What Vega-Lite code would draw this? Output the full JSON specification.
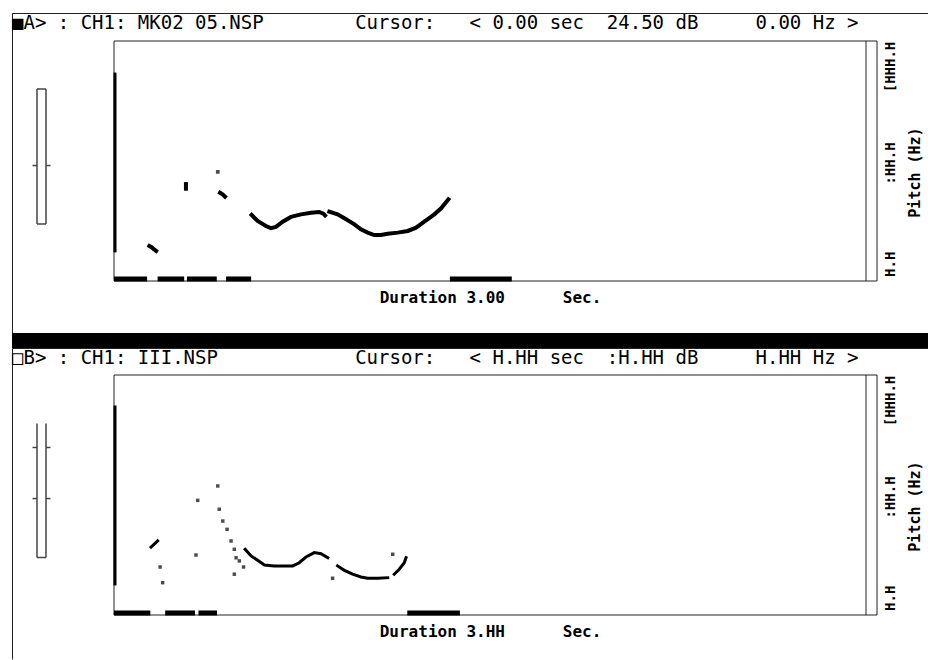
{
  "$schema": "https://vega.github.io/schema/vega-lite/v6.json",
  "background": "white",
  "padding": {"left": 11, "top": 12, "right": 0, "bottom": 0},
  "spacing": 0,
  "bounds": "flush",
  "config": {"view": {"stroke": null}, "font": "DejaVu Sans Mono", "axis": {"grid": false}},
  "datasets": {
    "pitchA": [
      {"t": 0.549, "hz": 333, "seg": "c1"}, {"t": 0.573, "hz": 300, "seg": "c1"}, {"t": 0.606, "hz": 273, "seg": "c1"},
      {"t": 0.626, "hz": 261, "seg": "c1"}, {"t": 0.646, "hz": 268, "seg": "c1"}, {"t": 0.673, "hz": 296, "seg": "c1"},
      {"t": 0.706, "hz": 322, "seg": "c1"}, {"t": 0.746, "hz": 336, "seg": "c1"}, {"t": 0.786, "hz": 345, "seg": "c1"},
      {"t": 0.819, "hz": 349, "seg": "c1"}, {"t": 0.835, "hz": 340, "seg": "c1"}, {"t": 0.842, "hz": 330, "seg": "c1"},
      {"t": 0.859, "hz": 350, "seg": "c2"}, {"t": 0.892, "hz": 336, "seg": "c2"}, {"t": 0.926, "hz": 309, "seg": "c2"},
      {"t": 0.959, "hz": 282, "seg": "c2"}, {"t": 0.985, "hz": 255, "seg": "c2"}, {"t": 1.012, "hz": 237, "seg": "c2"},
      {"t": 1.038, "hz": 224, "seg": "c2"}, {"t": 1.065, "hz": 224, "seg": "c2"}, {"t": 1.092, "hz": 231, "seg": "c2"},
      {"t": 1.132, "hz": 237, "seg": "c2"}, {"t": 1.172, "hz": 246, "seg": "c2"}, {"t": 1.205, "hz": 264, "seg": "c2"},
      {"t": 1.238, "hz": 296, "seg": "c2"}, {"t": 1.278, "hz": 336, "seg": "c2"}, {"t": 1.305, "hz": 369, "seg": "c2"},
      {"t": 1.334, "hz": 418, "seg": "c2"},
      {"t": 0.141, "hz": 165, "seg": "s1"}, {"t": 0.150, "hz": 158, "seg": "s1"}, {"t": 0.160, "hz": 146, "seg": "s1"}, {"t": 0.168, "hz": 138, "seg": "s1"},
      {"t": 0.287, "hz": 500, "seg": "s2"}, {"t": 0.287, "hz": 475, "seg": "s2"},
      {"t": 0.423, "hz": 453, "seg": "s3"}, {"t": 0.433, "hz": 445, "seg": "s3"}, {"t": 0.443, "hz": 432, "seg": "s3"},
      {"t": 0.414, "hz": 566, "seg": "dot"}
    ],
    "pitchB": [
      {"t": 0.148, "hz": 343, "seg": "b1"}, {"t": 0.174, "hz": 376, "seg": "b1"},
      {"t": 0.523, "hz": 331, "seg": "b2"}, {"t": 0.547, "hz": 295, "seg": "b2"}, {"t": 0.573, "hz": 271, "seg": "b2"},
      {"t": 0.600, "hz": 246, "seg": "b2"}, {"t": 0.639, "hz": 241, "seg": "b2"}, {"t": 0.679, "hz": 241, "seg": "b2"},
      {"t": 0.713, "hz": 241, "seg": "b2"}, {"t": 0.739, "hz": 258, "seg": "b2"}, {"t": 0.766, "hz": 289, "seg": "b2"},
      {"t": 0.799, "hz": 313, "seg": "b2"}, {"t": 0.826, "hz": 307, "seg": "b2"}, {"t": 0.853, "hz": 285, "seg": "b2"},
      {"t": 0.892, "hz": 241, "seg": "b3"}, {"t": 0.919, "hz": 217, "seg": "b3"}, {"t": 0.952, "hz": 196, "seg": "b3"},
      {"t": 0.985, "hz": 181, "seg": "b3"}, {"t": 1.012, "hz": 174, "seg": "b3"}, {"t": 1.052, "hz": 174, "seg": "b3"},
      {"t": 1.092, "hz": 177, "seg": "b3"},
      {"t": 1.118, "hz": 196, "seg": "b4"}, {"t": 1.138, "hz": 223, "seg": "b4"}, {"t": 1.158, "hz": 258, "seg": "b4"}, {"t": 1.165, "hz": 285, "seg": "b4"},
      {"t": 0.184, "hz": 235, "seg": "dot"}, {"t": 0.194, "hz": 150, "seg": "dot"}, {"t": 0.334, "hz": 596, "seg": "dot"},
      {"t": 0.327, "hz": 300, "seg": "dot"}, {"t": 0.414, "hz": 674, "seg": "dot"}, {"t": 0.480, "hz": 196, "seg": "dot"},
      {"t": 0.872, "hz": 174, "seg": "dot"}, {"t": 1.112, "hz": 304, "seg": "dot"},
      {"t": 0.420, "hz": 548, "seg": "dot"}, {"t": 0.434, "hz": 484, "seg": "dot"}, {"t": 0.451, "hz": 439, "seg": "dot"},
      {"t": 0.467, "hz": 376, "seg": "dot"}, {"t": 0.480, "hz": 331, "seg": "dot"}, {"t": 0.487, "hz": 285, "seg": "dot"},
      {"t": 0.500, "hz": 268, "seg": "dot"}, {"t": 0.517, "hz": 235, "seg": "dot"}
    ],
    "voicedA": [{"t0": 0, "t1": 0.132}, {"t0": 0.174, "t1": 0.28}, {"t0": 0.291, "t1": 0.41}, {"t0": 0.447, "t1": 0.547}, {"t0": 1.34, "t1": 1.587}],
    "voicedB": [{"t0": 0, "t1": 0.145}, {"t0": 0.204, "t1": 0.323}, {"t0": 0.337, "t1": 0.411}, {"t0": 1.17, "t1": 1.38}],
    "levelA": [{"t": 0.004, "lo": 130, "hi": 1104}],
    "levelB": [{"t": 0.004, "lo": 135, "hi": 1110}],
    "sliderA": [
      {"sx": 0, "sx2": 0, "sy": 0, "sy2": 1}, {"sx": 1, "sx2": 1, "sy": 0, "sy2": 1},
      {"sx": 0, "sx2": 1, "sy": 1, "sy2": 1}, {"sx": 0, "sx2": 1, "sy": 0, "sy2": 0},
      {"sx": -0.5, "sx2": 0, "sy": 0.433, "sy2": 0.433}, {"sx": 1, "sx2": 1.5, "sy": 0.433, "sy2": 0.433}
    ],
    "sliderB": [
      {"sx": 0, "sx2": 0, "sy": 0, "sy2": 1}, {"sx": 1, "sx2": 1, "sy": 0, "sy2": 1},
      {"sx": 0, "sx2": 1, "sy": 0, "sy2": 0},
      {"sx": -0.5, "sx2": 0, "sy": 0.821, "sy2": 0.821}, {"sx": 1, "sx2": 1.5, "sy": 0.821, "sy2": 0.821},
      {"sx": -0.5, "sx2": 0, "sy": 0.44, "sy2": 0.44}, {"sx": 1, "sx2": 1.5, "sy": 0.44, "sy2": 0.44}
    ]
  },
  "vconcat": [
    {
      "width": 916,
      "height": 320,
      "view": {"stroke": "#222", "strokeWidth": 1, "strokeDash": [916, 1236, 320]},
      "title": {
        "text": "■A> : CH1: MK02 05.NSP\u00a0\u00a0\u00a0\u00a0\u00a0\u00a0\u00a0\u00a0Cursor:\u00a0\u00a0\u00a0<\u00a00.00\u00a0sec\u00a0\u00a024.50\u00a0dB\u00a0\u00a0\u00a0\u00a0\u00a00.00\u00a0Hz\u00a0>",
        "anchor": "start", "frame": "group", "orient": "top", "offset": -20,
        "font": "DejaVu Sans Mono", "fontSize": 19, "fontWeight": "normal", "color": "black"
      },
      "layer": [
        {
          "layer": [
            {
              "data": {"values": [{}]},
              "mark": {"type": "rect", "filled": false, "color": "#222", "strokeWidth": 1},
              "encoding": {
                "x": {"datum": 0, "type": "quantitative", "scale": {"domain": [0, 3], "range": [102, 854], "nice": false, "zero": false},
                  "axis": {"orient": "bottom", "offset": -52, "labels": false, "ticks": false, "tickSize": 0, "domain": false, "grid": false,
                    "title": "Duration 3.00\u00a0\u00a0\u00a0\u00a0\u00a0\u00a0Sec.", "titleFont": "DejaVu Sans Mono", "titleFontSize": 16, "titleFontWeight": "bold", "titleColor": "black", "titlePadding": 8}},
                "x2": {"datum": 3.044},
                "y": {"datum": -25, "type": "quantitative", "scale": {"domain": [-25, 1275], "range": [268, 28], "nice": false, "zero": false},
                  "axis": {"orient": "right", "offset": -46, "values": [0, 500, 1000],
                    "labelExpr": "datum.value == 0 ? 'H.H' : datum.value == 500 ? ':HH.H' : '[HHH.H'",
                    "labelAngle": 270, "labelAlign": "left", "labelBaseline": "top", "labelPadding": 1, "labelOverlap": false, "labelFlush": false,
                    "ticks": false, "tickSize": 0, "domain": false, "grid": false,
                    "labelFont": "DejaVu Sans Mono", "labelFontSize": 14, "labelFontWeight": "bold", "labelColor": "black",
                    "title": "Pitch (Hz)", "titleAngle": 270, "titleAlign": "center", "titleBaseline": "top", "titlePadding": 10, "titleY": 159,
                    "titleFont": "DejaVu Sans Mono", "titleFontSize": 15, "titleFontWeight": "bold", "titleColor": "black"}},
                "y2": {"datum": 1275}
              }
            },
            {
              "data": {"values": [{}]},
              "mark": {"type": "rule", "color": "#222", "strokeWidth": 1},
              "encoding": {"x": {"datum": 3, "type": "quantitative"}, "y": {"datum": -25, "type": "quantitative"}, "y2": {"datum": 1275}}
            },
            {
              "data": {"name": "levelA"},
              "mark": {"type": "rule", "color": "black", "strokeWidth": 3},
              "encoding": {"x": {"field": "t", "type": "quantitative"}, "y": {"field": "lo", "type": "quantitative"}, "y2": {"field": "hi"}}
            },
            {
              "data": {"name": "voicedA"},
              "mark": {"type": "rule", "color": "black", "strokeWidth": 5},
              "encoding": {"x": {"field": "t0", "type": "quantitative"}, "x2": {"field": "t1"}, "y": {"datum": -14, "type": "quantitative"}}
            },
            {
              "data": {"name": "pitchA"},
              "transform": [{"filter": "datum.seg != 'dot'"}],
              "mark": {"type": "line", "color": "black", "strokeWidth": 4, "strokeCap": "square"},
              "encoding": {"x": {"field": "t", "type": "quantitative"}, "y": {"field": "hz", "type": "quantitative"}, "detail": {"field": "seg"}}
            },
            {
              "data": {"name": "pitchA"},
              "transform": [{"filter": "datum.seg == 'dot'"}],
              "mark": {"type": "square", "color": "black", "filled": true, "size": 14},
              "encoding": {"x": {"field": "t", "type": "quantitative"}, "y": {"field": "hz", "type": "quantitative"}}
            }
          ]
        },
        {
          "data": {"name": "sliderA"},
          "mark": {"type": "rule", "color": "#444", "strokeWidth": 1.5},
          "encoding": {
            "x": {"field": "sx", "type": "quantitative", "scale": {"domain": [0, 1], "range": [25, 34], "nice": false, "zero": false}, "axis": null},
            "x2": {"field": "sx2"},
            "y": {"field": "sy", "type": "quantitative", "scale": {"domain": [0, 1], "range": [211, 76], "nice": false, "zero": false}, "axis": null},
            "y2": {"field": "sy2"}
          }
        }
      ],
      "resolve": {"scale": {"x": "independent", "y": "independent"}, "axis": {"x": "independent", "y": "independent"}}
    },
    {
      "width": 916,
      "height": 15,
      "data": {"values": [{"a": 0, "b": 1}]},
      "mark": {"type": "rect", "color": "black"},
      "encoding": {
        "x": {"field": "a", "type": "quantitative", "scale": {"domain": [0, 1], "nice": false, "zero": false}, "axis": null},
        "x2": {"field": "b"}
      }
    },
    {
      "width": 916,
      "height": 311,
      "view": {"stroke": "#222", "strokeWidth": 1, "strokeDash": [916, 1227, 311]},
      "title": {
        "text": "□B> : CH1: III.NSP\u00a0\u00a0\u00a0\u00a0\u00a0\u00a0\u00a0\u00a0\u00a0\u00a0\u00a0\u00a0Cursor:\u00a0\u00a0\u00a0<\u00a0H.HH\u00a0sec\u00a0\u00a0:H.HH\u00a0dB\u00a0\u00a0\u00a0\u00a0\u00a0H.HH\u00a0Hz\u00a0>",
        "anchor": "start", "frame": "group", "orient": "top", "offset": -20,
        "font": "DejaVu Sans Mono", "fontSize": 19, "fontWeight": "normal", "color": "black"
      },
      "layer": [
        {
          "layer": [
            {
              "data": {"values": [{}]},
              "mark": {"type": "rect", "filled": false, "color": "#222", "strokeWidth": 1},
              "encoding": {
                "x": {"datum": 0, "type": "quantitative", "scale": {"domain": [0, 3], "range": [102, 854], "nice": false, "zero": false},
                  "axis": {"orient": "bottom", "offset": -44, "labels": false, "ticks": false, "tickSize": 0, "domain": false, "grid": false,
                    "title": "Duration 3.HH\u00a0\u00a0\u00a0\u00a0\u00a0\u00a0Sec.", "titleFont": "DejaVu Sans Mono", "titleFontSize": 16, "titleFontWeight": "bold", "titleColor": "black", "titlePadding": 8}},
                "x2": {"datum": 3.044},
                "y": {"datum": -25, "type": "quantitative", "scale": {"domain": [-25, 1275], "range": [267, 27], "nice": false, "zero": false},
                  "axis": {"orient": "right", "offset": -46, "values": [0, 500, 1000],
                    "labelExpr": "datum.value == 0 ? 'H.H' : datum.value == 500 ? ':HH.H' : '[HHH.H'",
                    "labelAngle": 270, "labelAlign": "left", "labelBaseline": "top", "labelPadding": 1, "labelOverlap": false, "labelFlush": false,
                    "ticks": false, "tickSize": 0, "domain": false, "grid": false,
                    "labelFont": "DejaVu Sans Mono", "labelFontSize": 14, "labelFontWeight": "bold", "labelColor": "black",
                    "title": "Pitch (Hz)", "titleAngle": 270, "titleAlign": "center", "titleBaseline": "top", "titlePadding": 10, "titleY": 158,
                    "titleFont": "DejaVu Sans Mono", "titleFontSize": 15, "titleFontWeight": "bold", "titleColor": "black"}},
                "y2": {"datum": 1275}
              }
            },
            {
              "data": {"values": [{}]},
              "mark": {"type": "rule", "color": "#222", "strokeWidth": 1},
              "encoding": {"x": {"datum": 3, "type": "quantitative"}, "y": {"datum": -25, "type": "quantitative"}, "y2": {"datum": 1275}}
            },
            {
              "data": {"name": "levelB"},
              "mark": {"type": "rule", "color": "black", "strokeWidth": 3},
              "encoding": {"x": {"field": "t", "type": "quantitative"}, "y": {"field": "lo", "type": "quantitative"}, "y2": {"field": "hi"}}
            },
            {
              "data": {"name": "voicedB"},
              "mark": {"type": "rule", "color": "black", "strokeWidth": 5},
              "encoding": {"x": {"field": "t0", "type": "quantitative"}, "x2": {"field": "t1"}, "y": {"datum": -14, "type": "quantitative"}}
            },
            {
              "data": {"name": "pitchB"},
              "transform": [{"filter": "datum.seg != 'dot'"}],
              "mark": {"type": "line", "color": "black", "strokeWidth": 3, "strokeCap": "square"},
              "encoding": {"x": {"field": "t", "type": "quantitative"}, "y": {"field": "hz", "type": "quantitative"}, "detail": {"field": "seg"}}
            },
            {
              "data": {"name": "pitchB"},
              "transform": [{"filter": "datum.seg == 'dot'"}],
              "mark": {"type": "square", "color": "black", "filled": true, "size": 12},
              "encoding": {"x": {"field": "t", "type": "quantitative"}, "y": {"field": "hz", "type": "quantitative"}}
            }
          ]
        },
        {
          "data": {"name": "sliderB"},
          "mark": {"type": "rule", "color": "#444", "strokeWidth": 1.5},
          "encoding": {
            "x": {"field": "sx", "type": "quantitative", "scale": {"domain": [0, 1], "range": [25, 34], "nice": false, "zero": false}, "axis": null},
            "x2": {"field": "sx2"},
            "y": {"field": "sy", "type": "quantitative", "scale": {"domain": [0, 1], "range": [209.5, 75.5], "nice": false, "zero": false}, "axis": null},
            "y2": {"field": "sy2"}
          }
        }
      ],
      "resolve": {"scale": {"x": "independent", "y": "independent"}, "axis": {"x": "independent", "y": "independent"}}
    }
  ]
}
